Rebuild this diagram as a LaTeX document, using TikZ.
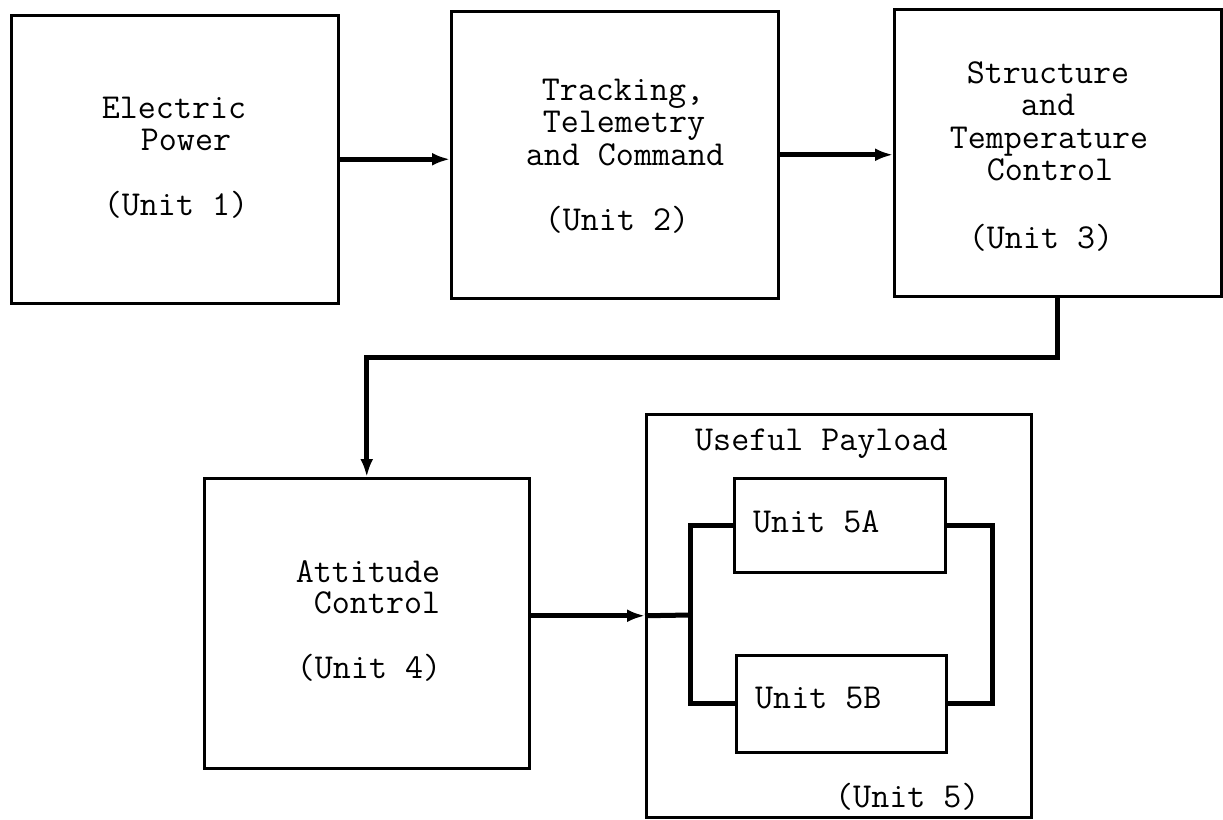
\documentclass[tikz,border=0pt]{standalone}
\usetikzlibrary{arrows.meta}
\begin{document}
\begin{tikzpicture}[x=1pt,y=-1pt,
  box/.style={draw, line width=2.5pt, inner sep=0pt, anchor=north west},
  conn/.style={line width=5pt, line join=miter},
  arr/.style={conn, -{Latex[length=18pt,width=13pt]}},
  txt/.style={font=\fontsize{35}{33}\selectfont\ttfamily, inner sep=0pt, anchor=base},
  txtl/.style={txt, anchor=base west}]
\useasboundingbox (0,0) rectangle (1223,819);
% boxes
\node[box, minimum width=327pt, minimum height=288pt] (b1) at (10,14) {};
\node[box, minimum width=327pt, minimum height=287pt] (b2) at (450,10) {};
\node[box, minimum width=327pt, minimum height=287pt] (b3) at (893,8) {};
\node[box, minimum width=325pt, minimum height=290pt] (b4) at (203,477) {};
\node[box, minimum width=385pt, minimum height=403pt] (b5) at (645,413) {};
\node[box, minimum width=211pt, minimum height=94pt] (u5a) at (733,477) {};
\node[box, minimum width=210pt, minimum height=97pt] (u5b) at (735,654) {};
% texts
\node[txt] (t1a) at (174,118) {Electric};
\node[txt] (t1b) at (186,150) {Power};
\node[txt] (t1c) at (176,215) {(Unit 1)};
\node[txt] (t2a) at (623,100) {Tracking,};
\node[txt] (t2b) at (624,132) {Telemetry};
\node[txt] (t2c) at (625,165) {and Command};
\node[txt] (t2d) at (617,230) {(Unit 2)};
\node[txt] (t3a) at (1048,83) {Structure};
\node[txt] (t3b) at (1048,115) {and};
\node[txt] (t3c) at (1049,148) {Temperature};
\node[txt] (t3d) at (1050,180) {Control};
\node[txt] (t3e) at (1041,248) {(Unit 3)};
\node[txt] (t4a) at (368,582) {Attitude};
\node[txt] (t4b) at (377,613) {Control};
\node[txt] (t4c) at (369,678) {(Unit 4)};
\node[txtl] (t5) at (695,450) {Useful Payload};
\node[txtl] (t5a) at (753,532) {Unit 5A};
\node[txtl] (t5b) at (755,708) {Unit 5B};
\node[txtl] (t5c) at (835,807) {(Unit 5)};
% connectors
\draw[arr] (b1.east) -- (b2.west |- b1.east);
\draw[arr] (b2.east) -- (b3.west |- b2.east);
\draw[arr] (b3.south) -- ++(0,60) -| (b4.north);
\draw[arr] (b4.east |- b5.west) -- (b5.west);
\coordinate (jl) at (690,615);
\coordinate (jr) at (992,615);
\draw[conn] (b5.west) -- (jl);
\draw[conn] (u5a.west) -| (jl) |- (u5b.west);
\draw[conn] (u5a.east) -| (jr) |- (u5b.east);
\end{tikzpicture}
\end{document}
